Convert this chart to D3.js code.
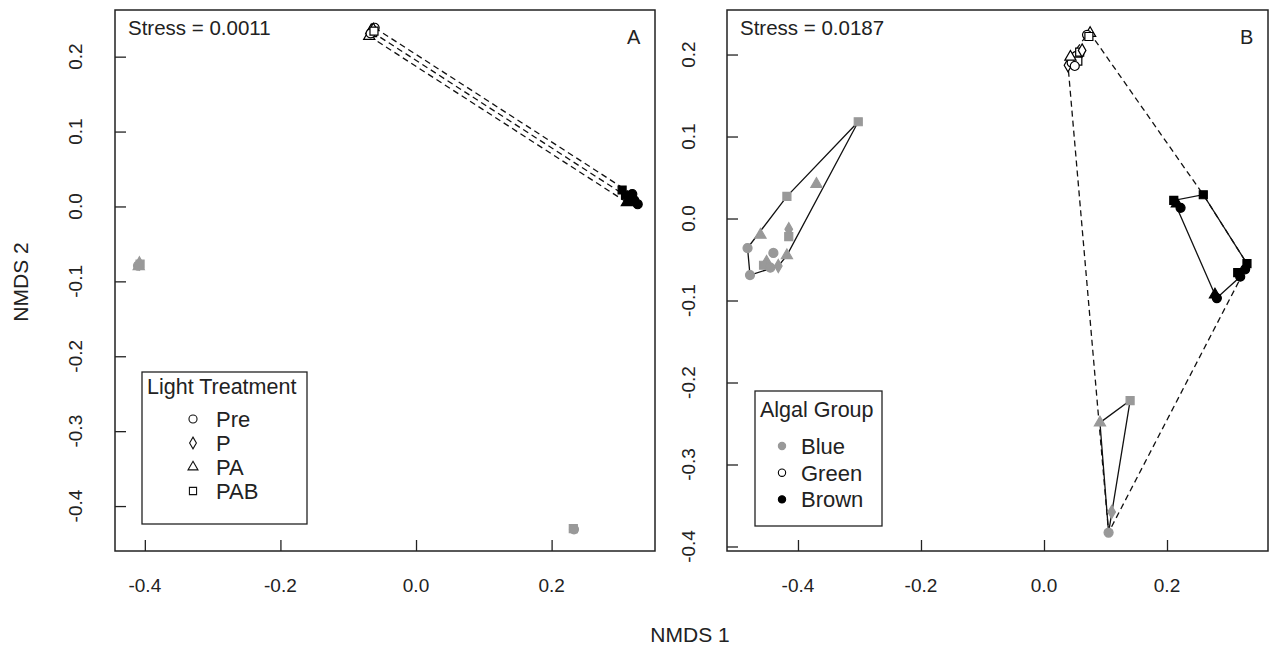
<!DOCTYPE html>
<html><head><meta charset="utf-8">
<script src="https://cdn.jsdelivr.net/npm/d3@7"></script>
<style>
body{margin:0;background:#fff}
text{font-family:"Liberation Sans",Arial,sans-serif;fill:#222}
</style>
</head><body>
<svg id="c" width="1277" height="652"></svg>
<script>
// ---------- DATA ----------
const treatments = ["Pre", "P", "PA", "PAB"];
const algalGroups = ["Blue", "Green", "Brown"];
const xTicks = [-0.4, -0.2, 0.0, 0.2];
const yTicks = [0.2, 0.1, 0.0, -0.1, -0.2, -0.3, -0.4];

// Panel A
const aX     = [-0.061, -0.065, -0.069, -0.064, -0.066, -0.063, -0.067, -0.062,
                 0.319, 0.315, 0.311, 0.316, 0.322, 0.309, 0.304, 0.327,
                -0.410, -0.408, -0.409, -0.407,
                 0.232, 0.233];
const aY     = [ 0.2386, 0.233, 0.2274, 0.232, 0.235, 0.236, 0.231, 0.234,
                 0.0166, 0.011, 0.0054, 0.010, 0.008, 0.015, 0.022, 0.003,
                -0.079, -0.076, -0.080, -0.077,
                -0.430, -0.431];
const aTreat = ["Pre","P","PA","PAB","PA","P","Pre","PAB",
                "Pre","P","PA","PAB","Pre","PAB","PAB","Pre",
                "Pre","P","PA","PAB",
                "PAB","Pre"];
const aGroup = ["Green","Green","Green","Green","Green","Green","Green","Green",
                "Brown","Brown","Brown","Brown","Brown","Brown","Brown","Brown",
                "Blue","Blue","Blue","Blue",
                "Blue","Blue"];

// Panel B
const bX = [
  -0.302, -0.370, -0.418, -0.461, -0.415, -0.415, -0.482, -0.440, -0.418, -0.451, -0.456, -0.445, -0.478, -0.432,
   0.075,  0.070,  0.073,  0.039,  0.048,  0.052,  0.058,  0.045,  0.062,  0.055,  0.043,  0.050,
   0.259,  0.211,  0.216,  0.222,  0.330,  0.327,  0.315,  0.319,  0.278,  0.281,
   0.140,  0.091,  0.110,  0.105];
const bY = [
   0.118,  0.042,  0.027, -0.020, -0.013, -0.022, -0.036, -0.042, -0.045, -0.053, -0.057, -0.060, -0.069, -0.058,
   0.226,  0.224,  0.222,  0.187,  0.193,  0.198,  0.203,  0.190,  0.205,  0.192,  0.197,  0.186,
   0.029,  0.022,  0.018,  0.013, -0.055, -0.062, -0.066, -0.071, -0.093, -0.097,
  -0.222, -0.249, -0.358, -0.383];
const bTreat = [
  "PAB","PA","PAB","PA","P","PAB","Pre","Pre","PA","PA","PAB","Pre","Pre","P",
  "PA","Pre","PAB","P","PA","Pre","PAB","Pre","P","PAB","PA","Pre",
  "PAB","PAB","PA","Pre","PAB","Pre","PAB","Pre","PA","Pre",
  "PAB","PA","P","Pre"];
const bGroup = [
  "Blue","Blue","Blue","Blue","Blue","Blue","Blue","Blue","Blue","Blue","Blue","Blue","Blue","Blue",
  "Green","Green","Green","Green","Green","Green","Green","Green","Green","Green","Green","Green",
  "Brown","Brown","Brown","Brown","Brown","Brown","Brown","Brown","Brown","Brown",
  "Blue","Blue","Blue","Blue"];
const bCluster = [
  "L","L","L","L","L","L","L","L","L","L","L","L","L","L",
  "T","T","T","T","T","T","T","T","T","T","T","T",
  "R","R","R","R","R","R","R","R","R","R",
  "D","D","D","D"];
const bSolidHulls = ["L", "R", "D"];
const bDashedHull = ["T", "R", "D"];

const stressA = "Stress = 0.0011";
const stressB = "Stress = 0.0187";

// ---------- STYLE ----------
const shapeOf = {Pre: d3.symbolCircle, P: d3.symbolDiamond, PA: d3.symbolTriangle, PAB: d3.symbolSquare};
const sizeOf = {Pre: 64, P: 50, PA: 54, PAB: 64};
const fillOf = {Blue: "#999999", Green: "#ffffff", Brown: "#000000"};
const strokeOf = {Blue: "#999999", Green: "#000000", Brown: "#000000"};

const svg = d3.select("#c");

function panel(cfg) {
  const x = d3.scaleLinear().domain(cfg.xd).range([cfg.left, cfg.right]);
  const y = d3.scaleLinear().domain(cfg.yd).range([cfg.bottom, cfg.top]);
  const g = svg.append("g");

  // ticks (inward)
  g.append("g").attr("transform", `translate(0,${cfg.bottom})`)
    .call(d3.axisBottom(x).tickValues(xTicks).tickSize(-11).tickSizeOuter(0).tickFormat(""))
    .call(s => s.select(".domain").remove())
    .selectAll("line").attr("stroke", "#222").attr("stroke-width", 1.3);
  g.append("g").attr("transform", `translate(${cfg.left},0)`)
    .call(d3.axisLeft(y).tickValues(yTicks).tickSize(-11).tickSizeOuter(0).tickFormat(""))
    .call(s => s.select(".domain").remove())
    .selectAll("line").attr("stroke", "#222").attr("stroke-width", 1.3);

  // tick labels
  g.selectAll(".xl").data(xTicks).join("text")
    .attr("x", d => x(d)).attr("y", cfg.bottom + 41)
    .attr("text-anchor", "middle").attr("font-size", 19)
    .text(d => d3.format(".1f")(d).replace("−", "-"));
  g.selectAll(".yl").data(yTicks).join("text")
    .attr("transform", d => `translate(${cfg.left - cfg.ylabOff},${y(d)}) rotate(-90)`)
    .attr("text-anchor", "middle").attr("font-size", 19)
    .text(d => d3.format(".1f")(d).replace("−", "-"));

  // hulls
  const line = d3.line().x(d => x(d[0])).y(d => y(d[1]));
  cfg.dashed.forEach(pts => {
    const h = pts.length > 2 ? d3.polygonHull(pts) : pts;
    g.append("path").attr("d", line(h) + (h.length > 2 ? "Z" : ""))
      .attr("fill", "none").attr("stroke", "#111").attr("stroke-width", 1.3)
      .attr("stroke-dasharray", "6,4");
  });
  cfg.solid.forEach(pts => {
    const h = d3.polygonHull(pts);
    g.append("path").attr("d", line(h) + "Z")
      .attr("fill", "none").attr("stroke", "#111").attr("stroke-width", 1.3);
  });

  // points
  g.selectAll(".pt").data(cfg.points).join("path")
    .attr("transform", d => `translate(${x(d.x)},${y(d.y)})`)
    .attr("d", d => d3.symbol().type(shapeOf[d.t]).size(sizeOf[d.t])())
    .attr("fill", d => fillOf[d.g]).attr("stroke", d => strokeOf[d.g])
    .attr("stroke-width", 1.2);

  // box
  g.append("rect").attr("x", cfg.left).attr("y", cfg.top)
    .attr("width", cfg.right - cfg.left).attr("height", cfg.bottom - cfg.top)
    .attr("fill", "none").attr("stroke", "#222").attr("stroke-width", 1.5);

  g.append("text").attr("x", cfg.left + 13).attr("y", cfg.top + 25)
    .attr("font-size", 20.5).text(cfg.stress);
  g.append("text").attr("x", cfg.right - 28).attr("y", cfg.top + 34)
    .attr("font-size", 20).text(cfg.letter);
  return {x, y, g};
}

// Panel A build
const aPts = aX.map((v, i) => ({x: v, y: aY[i], t: aTreat[i], g: aGroup[i]}));
const aDashed = ["Pre", "P", "PA"].map(t => {
  const gr = aPts.filter(p => p.t === t && p.g === "Green")[0];
  const br = aPts.filter(p => p.t === t && p.g === "Brown")[0];
  return [[gr.x, gr.y], [br.x, br.y]];
});
const A = panel({
  left: 115, right: 655, top: 10, bottom: 551,
  xd: [-0.4440, 0.3525], yd: [-0.4600, 0.2623],
  ylabOff: 33, stress: stressA, letter: "A",
  points: aPts, dashed: aDashed, solid: []
});

// Panel B build
const bPts = bX.map((v, i) => ({x: v, y: bY[i], t: bTreat[i], g: bGroup[i], c: bCluster[i]}));
const B = panel({
  left: 727, right: 1268, top: 10, bottom: 551,
  xd: [-0.5154, 0.3642], yd: [-0.4055, 0.2543],
  ylabOff: 32, stress: stressB, letter: "B",
  points: bPts,
  dashed: [bPts.filter(p => bDashedHull.includes(p.c)).map(p => [p.x, p.y])],
  solid: bSolidHulls.map(c => bPts.filter(p => p.c === c).map(p => [p.x, p.y]))
});

// axis titles
svg.append("text").attr("x", 690).attr("y", 642).attr("text-anchor", "middle")
  .attr("font-size", 21).text("NMDS 1");
svg.append("text").attr("transform", "translate(28,282) rotate(-90)")
  .attr("text-anchor", "middle").attr("font-size", 21).text("NMDS 2");

// Legend A
const lgA = svg.append("g");
lgA.append("rect").attr("x", 142).attr("y", 372).attr("width", 165).attr("height", 152)
  .attr("fill", "#fff").attr("stroke", "#222").attr("stroke-width", 1.3);
lgA.append("text").attr("x", 147).attr("y", 394).attr("font-size", 21.5).text("Light Treatment");
treatments.forEach((t, i) => {
  const cy = 419 + i * 24;
  lgA.append("path").attr("transform", `translate(193,${cy})`)
    .attr("d", d3.symbol().type(shapeOf[t]).size(sizeOf[t] * 0.8)())
    .attr("fill", "#fff").attr("stroke", "#111").attr("stroke-width", 1.1);
  lgA.append("text").attr("x", 216).attr("y", cy + 8).attr("font-size", 22).text(t);
});

// Legend B
const lgB = svg.append("g");
lgB.append("rect").attr("x", 755).attr("y", 391).attr("width", 127).attr("height", 135)
  .attr("fill", "#fff").attr("stroke", "#222").attr("stroke-width", 1.3);
lgB.append("text").attr("x", 760).attr("y", 417).attr("font-size", 21.5).text("Algal Group");
algalGroups.forEach((gname, i) => {
  const cy = 446 + i * 26.7;
  lgB.append("path").attr("transform", `translate(782,${cy})`)
    .attr("d", d3.symbol().type(d3.symbolCircle).size(42)())
    .attr("fill", fillOf[gname]).attr("stroke", strokeOf[gname]).attr("stroke-width", 1.1);
  lgB.append("text").attr("x", 801).attr("y", cy + 8).attr("font-size", 22).text(gname);
});
</script>
</body></html>
